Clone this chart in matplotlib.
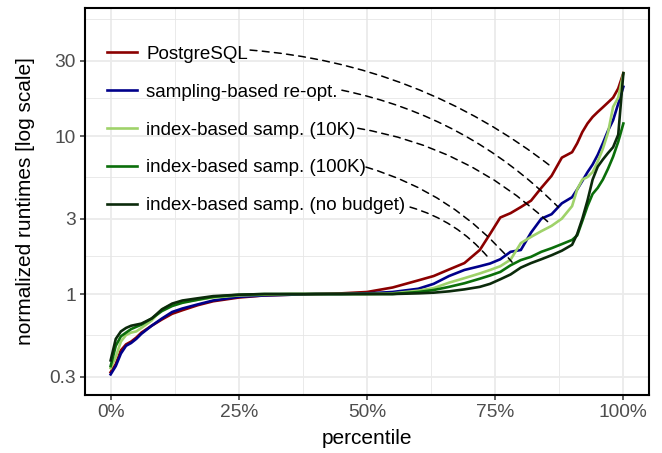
import numpy as np
import matplotlib
matplotlib.use("Agg")
import matplotlib.pyplot as plt
from matplotlib.ticker import FuncFormatter

plt.rcParams["font.family"] = ["Liberation Sans", "DejaVu Sans"]

# percentile positions the values were read at
pct = [0, 1, 2, 3, 4, 5, 6, 8, 10, 12, 14, 17, 20, 25, 30, 35, 40, 45, 50, 55,
       60, 63, 66, 69, 72, 74, 76, 78, 80, 82, 84, 86, 88, 90, 91, 92, 93, 94,
       95, 96, 97, 98, 99, 100]

postgres = [0.32, 0.36, 0.44, 0.48, 0.50, 0.53, 0.57, 0.63, 0.69, 0.75, 0.79, 0.85,
            0.90, 0.95, 0.98, 0.99, 1.00, 1.01, 1.03, 1.10, 1.22, 1.30, 1.43, 1.57,
            1.90, 2.40, 3.05, 3.25, 3.55, 3.90, 4.70, 5.60, 7.30, 7.90, 9.00, 10.6,
            12.0, 13.2, 14.2, 15.2, 16.3, 17.5, 20.0, 25.0]
sampling = [0.31, 0.35, 0.42, 0.47, 0.49, 0.52, 0.56, 0.63, 0.70, 0.77, 0.81, 0.86,
            0.91, 0.96, 0.98, 0.99, 1.00, 1.00, 1.01, 1.03, 1.08, 1.16, 1.30, 1.42,
            1.50, 1.56, 1.66, 1.85, 1.90, 2.45, 3.00, 3.20, 3.75, 4.10, 4.60, 5.20,
            5.90, 6.60, 7.60, 9.00, 10.8, 12.6, 16.0, 20.5]
idx_10k = [0.34, 0.40, 0.50, 0.55, 0.57, 0.58, 0.61, 0.68, 0.80, 0.86, 0.89, 0.92,
           0.95, 0.98, 0.99, 1.00, 1.00, 1.00, 1.00, 1.01, 1.05, 1.09, 1.18, 1.26,
           1.35, 1.42, 1.50, 1.65, 2.10, 2.30, 2.50, 2.70, 3.00, 3.60, 4.60, 5.30,
           5.50, 5.90, 6.90, 8.30, 10.5, 15.3, 17.5, 25.0]
idx_100k = [0.35, 0.47, 0.54, 0.57, 0.60, 0.62, 0.64, 0.70, 0.78, 0.84, 0.88, 0.92,
            0.96, 0.99, 1.00, 1.00, 1.00, 1.00, 1.00, 1.00, 1.03, 1.06, 1.11, 1.17,
            1.25, 1.31, 1.38, 1.52, 1.64, 1.72, 1.85, 1.95, 2.07, 2.20, 2.35, 2.90,
            3.60, 4.30, 4.70, 5.30, 6.20, 7.40, 9.20, 12.0]
idx_nobudget = [0.38, 0.52, 0.58, 0.61, 0.63, 0.64, 0.65, 0.70, 0.80, 0.87, 0.91, 0.94,
                0.97, 0.99, 1.00, 1.00, 1.00, 1.00, 1.00, 1.00, 1.01, 1.02, 1.04, 1.07,
                1.11, 1.16, 1.24, 1.33, 1.47, 1.57, 1.66, 1.76, 1.88, 2.05, 2.40, 3.00,
                3.90, 5.30, 6.40, 7.10, 7.80, 8.50, 10.2, 25.0]

labels = ["PostgreSQL", "sampling-based re-opt.", "index-based samp. (10K)",
          "index-based samp. (100K)", "index-based samp. (no budget)"]
colors = ["#8B0000", "#00008B", "#9FD26A", "#0A6E0A", "#0B2A0B"]

# label-end -> curve pointer (percentile, runtime)
pointer_start = [(27.2, 35.0), (45.1, 19.5), (48.2, 11.2), (49.8, 6.36), (58.4, 3.55)]
pointer_end = [(86.3, 6.27), (87.3, 3.55), (85.3, 2.86), (78.3, 1.59), (73.6, 1.71)]

y_breaks = [0.3, 1, 3, 10, 30]
y_break_labels = ["0.3", "1", "3", "10", "30"]
x_breaks = [0, 25, 50, 75, 100]

fig = plt.figure(figsize=(6.62, 4.53), dpi=100)
ax = fig.add_axes([85 / 662, 58 / 453, 564 / 662, 387 / 453])

series = [postgres, sampling, idx_10k, idx_100k, idx_nobudget]
for vals, lab, col in zip(series, labels, colors):
    ax.plot(pct, vals, color=col, lw=1.9, label=lab, solid_joinstyle="round")

for s, e in zip(pointer_start, pointer_end):
    ax.annotate("", xy=e, xytext=s,
                arrowprops=dict(arrowstyle="-", color="black", lw=1.1,
                                linestyle=(0, (4.5, 3.5)), shrinkA=0, shrinkB=0,
                                connectionstyle="arc3,rad=-0.15"))

ax.set_yscale("log")
ax.set_xlim(-5, 105)
ax.set_ylim(0.2296, 64.6)

ax.set_yticks(y_breaks)
ax.set_yticklabels(y_break_labels)
ax.set_yticks(np.sqrt(np.array([0.3, 1, 3, 10, 30]) * np.array([1, 3, 10, 30, 100])), minor=True)
ax.set_xticks(x_breaks)
ax.set_xticks([12.5, 37.5, 62.5, 87.5], minor=True)
ax.xaxis.set_major_formatter(FuncFormatter(lambda v, _: f"{v:.0f}%"))
ax.yaxis.set_minor_formatter(FuncFormatter(lambda v, _: ""))

ax.grid(which="major", color="#EBEBEB", lw=1.3)
ax.grid(which="minor", color="#E6E6E6", lw=0.6)
ax.set_axisbelow(True)

ax.tick_params(which="major", length=3.6, width=1.1, color="#333333",
               labelsize=13.8, labelcolor="#4D4D4D", pad=3)
ax.tick_params(which="minor", length=0)
for sp in ax.spines.values():
    sp.set_color("black")
    sp.set_linewidth(1.5)

ax.set_xlabel("percentile", fontsize=15, labelpad=6)
ax.set_ylabel("normalized runtimes [log scale]", fontsize=15, labelpad=10)

ax.legend(loc="upper left", bbox_to_anchor=(0.0385, 0.903), frameon=False,
          fontsize=13.5, handlelength=1.6, handletextpad=0.5, labelspacing=1.11,
          borderaxespad=0, borderpad=0)

fig.savefig("out.png", dpi=100)
